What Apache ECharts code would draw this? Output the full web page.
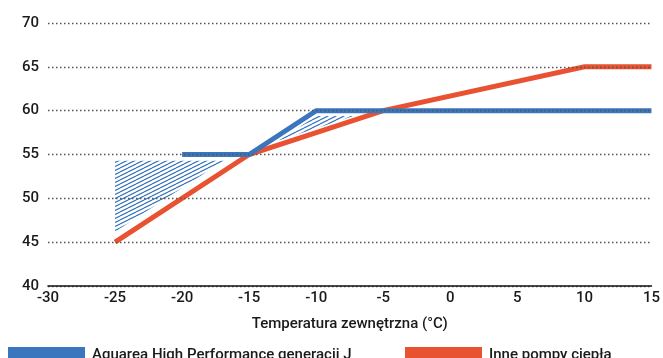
<!DOCTYPE html>
<html>
<head>
<meta charset="utf-8">
<script src="https://cdn.jsdelivr.net/npm/echarts@6/dist/echarts.min.js"></script>
<style>
html,body{margin:0;padding:0;background:#fff;}
#chart{width:663px;height:358px;}
</style>
</head>
<body>
<div id="chart"></div>
<script>
const xMin = -30, xMax = 15, xStep = 5;
const yMin = 40, yMax = 70, yStep = 5;
const xAxisName = 'Temperatura zewnętrzna (°C)';
const blueName = 'Aquarea High Performance generacji J';
const redName = 'Inne pompy ciepła';
const blueX = [-20, -15, -10, 15];
const blueY = [55, 55, 60, 60];
const redX = [-25, -15, -5, 10, 15];
const redY = [45, 55, 60, 65, 65];
const hatchA = [[-25, 54.3], [-16.9, 54.3], [-25, 46.2]];
const hatchB = [[-12.8, 56.6], [-10, 59.4], [-7.2, 59.4]];

const BLUE = '#3a76bd';
const RED = '#e85230';
const FONT = 'Roboto';
const TXT = '#1a1a1a';

function makePattern() {
  const c = document.createElement('canvas');
  c.width = 8; c.height = 4;
  const g = c.getContext('2d');
  g.strokeStyle = BLUE;
  g.lineWidth = 1.2;
  for (const off of [-4, 0, 4]) {
    g.beginPath();
    g.moveTo(0, 4 + off);
    g.lineTo(8, 0 + off);
    g.stroke();
  }
  return c;
}
const pattern = makePattern();

const legendText = {fontFamily: FONT, fontSize: 15, color: TXT, fontWeight: 500, padding: [0, 0, 0, 2]};

const chart = echarts.init(document.getElementById('chart'), null, {renderer: 'canvas'});
chart.setOption({
  animation: false,
  backgroundColor: '#fff',
  textStyle: {fontFamily: FONT},
  grid: {left: 48, right: 6, top: 23, bottom: 72, containLabel: false},
  legend: [
    {
      data: [blueName], left: 4, top: 343, padding: [4, 0, 0, 4], itemWidth: 77, itemHeight: 16, icon: 'rect',
      textStyle: legendText, itemGap: 5
    },
    {
      data: [redName], left: 401, top: 343, padding: [4, 0, 0, 4], itemWidth: 77, itemHeight: 16, icon: 'rect',
      textStyle: legendText, itemGap: 5
    }
  ],
  xAxis: {
    type: 'value', min: xMin, max: xMax, interval: xStep, z: 12,
    name: xAxisName, nameLocation: 'middle', nameGap: 31,
    nameTextStyle: {fontFamily: FONT, fontSize: 15, color: TXT, fontWeight: 500},
    axisLine: {show: true, onZero: false, lineStyle: {color: '#111', width: 1.6}},
    axisTick: {show: false},
    splitLine: {show: false},
    axisLabel: {fontFamily: FONT, fontSize: 15, color: TXT, fontWeight: 500, margin: 5}
  },
  yAxis: {
    type: 'value', min: yMin, max: yMax, interval: yStep, z: 10,
    axisLine: {show: false}, axisTick: {show: false},
    axisLabel: {fontFamily: FONT, fontSize: 15, color: TXT, fontWeight: 500, margin: 9},
    splitLine: {show: true, lineStyle: {color: '#555', width: 1.3, type: [1.5, 2.5]}}
  },
  series: [
    {
      type: 'custom', name: 'hatch', silent: true, z: 1,
      data: [0, 1],
      renderItem: function (params, api) {
        const poly = [hatchA, hatchB][params.dataIndex];
        const pts = poly.map(p => api.coord(p));
        return {type: 'polygon', shape: {points: pts},
          style: {fill: {image: pattern, repeat: 'repeat'}, stroke: null}};
      }
    },
    {
      name: redName, type: 'line', z: 3,
      data: redX.map((x, i) => [x, redY[i]]),
      showSymbol: false, symbol: 'none',
      lineStyle: {color: RED, width: 5, cap: 'butt', join: 'miter'},
      itemStyle: {color: RED}
    },
    {
      name: blueName, type: 'line', z: 4,
      data: blueX.map((x, i) => [x, blueY[i]]),
      showSymbol: false, symbol: 'none',
      lineStyle: {color: BLUE, width: 5, cap: 'butt', join: 'miter'},
      itemStyle: {color: BLUE}
    }
  ]
});
</script>
</body>
</html>
